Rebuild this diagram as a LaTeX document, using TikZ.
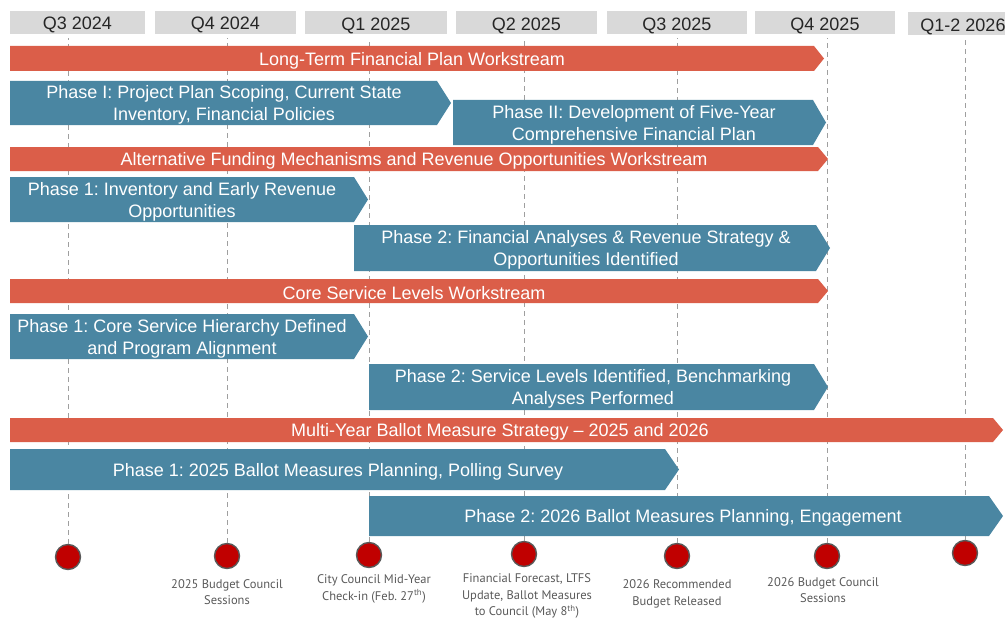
\documentclass[tikz,border=0pt]{standalone}
\usepackage{fontspec}
\setmainfont{Liberation Sans}
\newfontfamily\notefont{PT Sans}
\usepackage{xcolor}
\definecolor{wsred}{HTML}{DB5E49}
\definecolor{phteal}{HTML}{4A86A2}
\definecolor{qgray}{HTML}{D9D9D9}
\definecolor{msred}{HTML}{C00000}
\definecolor{notegray}{HTML}{595959}

\begin{document}
\frenchspacing
\begin{tikzpicture}[
  x=1pt, y=-1pt,
  qbox/.style={fill=qgray, minimum height=23pt, inner sep=0pt, text height=15pt, text depth=0pt, text=black!85, font=\fontsize{18}{22}\selectfont},
  ws/.style={fill=wsred},
  ph/.style={fill=phteal},
  bartext/.style={text=white, align=center, inner sep=0pt, yshift=-2pt, font=\fontsize{18}{22}\selectfont},
  qline/.style={draw=gray!75, line width=1pt, dash pattern=on 5pt off 4pt},
  ms/.style={circle, fill=msred, draw=gray!70!black, line width=1.4pt, minimum size=25pt, inner sep=0pt},
  note/.style={text=notegray, align=center, inner sep=0pt, font=\notefont\fontsize{12.5}{16.5}\selectfont},
]
\clip (0,0) rectangle (1005,618);

% ---- quarter headers ----
\node[qbox, minimum width=135pt] (q1) at (77.5,22.5) {Q3 2024};
\node[qbox, minimum width=141pt] (q2) at (225.5,22.5) {Q4 2024};
\node[qbox, minimum width=142pt] (q3) at (376,23) {Q1 2025};
\node[qbox, minimum width=141pt] (q4) at (526.5,23) {Q2 2025};
\node[qbox, minimum width=140pt] (q5) at (677,23) {Q3 2025};
\node[qbox, minimum width=140pt] (q6) at (825,23) {Q4 2025};
\node[qbox, minimum width=110pt] (q7) at (963,24) {Q1-2 2026};

% ---- milestones and their guide lines ----
\node[ms] (m1) at (68,557) {};
\node[ms] (m2) at (227,556) {};
\node[ms] (m3) at (369,555) {};
\node[ms] (m4) at (524,554) {};
\node[ms] (m5) at (677,556) {};
\node[ms] (m6) at (827,556) {};
\node[ms] (m7) at (965,553) {};
\foreach \m in {m1,m2,m3,m4,m5,m6,m7}
  \draw[qline] (\m.north) -- (\m |- 0,38);

% ---- Long-Term Financial Plan ----
\fill[ws] (10,46) -- (814,46) -- (824,58.5) -- (814,71) -- (10,71) -- cycle;
\node[bartext] (ltfp) at (412,58.5) {Long-Term Financial Plan Workstream};
\fill[ph] (10,81) -- (437,81) -- (451,103) -- (437,125) -- (10,125) -- cycle;
\node[bartext] (ltfp1) at (224,103) {Phase I: Project Plan Scoping, Current State\\Inventory, Financial Policies};
\fill[ph] (453,100) -- (813,100) -- (826,122.5) -- (813,145) -- (453,145) -- cycle;
\node[bartext] (ltfp2) at (634,122.5) {Phase II: Development of Five-Year\\Comprehensive Financial Plan};

% ---- Alternative Funding ----
\fill[ws] (10,147) -- (818,147) -- (828,159) -- (818,171) -- (10,171) -- cycle;
\node[bartext] (afm) at (414,159) {Alternative Funding Mechanisms and Revenue Opportunities Workstream};
\fill[ph] (10,177) -- (354,177) -- (368,199.5) -- (354,222) -- (10,222) -- cycle;
\node[bartext] (afm1) at (182,199.5) {Phase 1: Inventory and Early Revenue\\Opportunities};
\fill[ph] (354,225) -- (816,225) -- (830,248) -- (816,271) -- (354,271) -- cycle;
\node[bartext] (afm2) at (586,248) {Phase 2: Financial Analyses \& Revenue Strategy \&\\Opportunities Identified};

% ---- Core Service Levels ----
\fill[ws] (10,279) -- (818,279) -- (828,291) -- (818,303) -- (10,303) -- cycle;
\node[bartext] (csl) at (414,291) {Core Service Levels Workstream};
\fill[ph] (10,314) -- (354,314) -- (368,336.5) -- (354,359) -- (10,359) -- cycle;
\node[bartext] (csl1) at (182,336.5) {Phase 1: Core Service Hierarchy Defined\\and Program Alignment};
\fill[ph] (369,364) -- (814,364) -- (828,387) -- (814,410) -- (369,410) -- cycle;
\node[bartext] (csl2) at (593,387) {Phase 2: Service Levels Identified, Benchmarking\\Analyses Performed};

% ---- Ballot Measure Strategy ----
\fill[ws] (10,418) -- (993,418) -- (1003,430) -- (993,442) -- (10,442) -- cycle;
\node[bartext] (bms) at (500,430) {Multi-Year Ballot Measure Strategy -- 2025 and 2026};
\fill[ph] (10,449) -- (665,449) -- (679,469.5) -- (665,490) -- (10,490) -- cycle;
\node[bartext] (bms1) at (338,469.5) {Phase 1: 2025 Ballot Measures Planning, Polling Survey};
\fill[ph] (369,496) -- (989,496) -- (1003,516) -- (989,536) -- (369,536) -- cycle;
\node[bartext] (bms2) at (683,516) {Phase 2: 2026 Ballot Measures Planning, Engagement};

% ---- milestone notes ----
\node[note] (n2) at (227,592) {2025 Budget Council\\Sessions};
\node[note] (n3) at (374,589) {City Council Mid-Year\\Check-in (Feb. 27\textsuperscript{th})};
\node[note] (n4) at (527,596) {Financial Forecast, LTFS\\Update, Ballot Measures\\to Council (May 8\textsuperscript{th})};
\node[note] (n5) at (677,594) {2026 Recommended\\Budget Released};
\node[note] (n6) at (823,590) {2026 Budget Council\\Sessions};
\end{tikzpicture}
\end{document}
